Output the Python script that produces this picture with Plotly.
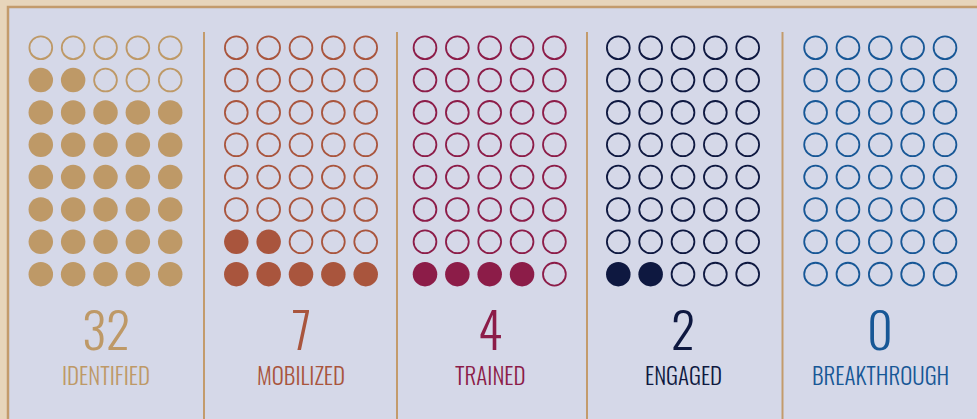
import plotly.graph_objects as go

# ---- data ----
CATEGORIES = ["IDENTIFIED", "MOBILIZED", "TRAINED", "ENGAGED", "BREAKTHROUGH"]
COUNTS = [32, 7, 4, 2, 0]
COLORS = ["#be9967", "#a9553d", "#8c1c48", "#0e1840", "#175796"]
GRID_COLS = 5
GRID_ROWS = 8

# ---- layout constants (pixels) ----
W, H = 977, 419
PANEL_CENTERS = [105.5, 301.0, 489.7, 683.0, 880.3]
DIVIDERS = [204.0, 397.0, 587.0, 782.5]
SPACING = 32.35
TOP_ROW_Y = 47.7
NUM_Y = 327
LABEL_Y = 375
BG = "#d5d8e8"
OUTER = "#e7d5bb"
TAN = "#c39b6c"
FONT = "Oswald, 'Liberation Sans Narrow', 'DejaVu Sans Condensed', 'Roboto Condensed', sans-serif"

fig = go.Figure()

for k, (cat, cnt, col) in enumerate(zip(CATEGORIES, COUNTS, COLORS)):
    fx, fy, ox, oy = [], [], [], []
    for i in range(GRID_COLS * GRID_ROWS):
        row_from_bottom = i // GRID_COLS
        c = i % GRID_COLS
        x = PANEL_CENTERS[k] + (c - (GRID_COLS - 1) / 2) * SPACING
        y = TOP_ROW_Y + (GRID_ROWS - 1 - row_from_bottom) * SPACING
        if i < cnt:
            fx.append(x); fy.append(y)
        else:
            ox.append(x); oy.append(y)
    fig.add_trace(go.Scatter(x=ox, y=oy, mode="markers", hoverinfo="skip",
                             marker=dict(symbol="circle-open", size=22.8, color=col,
                                         line=dict(width=1.8, color=col))))
    if fx:
        fig.add_trace(go.Scatter(x=fx, y=fy, mode="markers", hoverinfo="skip",
                                 marker=dict(symbol="circle", size=24.5, color=col,
                                             line=dict(width=0))))
    fig.add_annotation(x=PANEL_CENTERS[k], y=NUM_Y, text=str(cnt), showarrow=False,
                       xanchor="center", yanchor="middle",
                       font=dict(family=FONT, size=50, color=col, weight=300))
    fig.add_annotation(x=PANEL_CENTERS[k], y=LABEL_Y, text=cat, showarrow=False,
                       xanchor="center", yanchor="middle",
                       font=dict(family=FONT, size=23, color=col, weight=300))

shapes = [dict(type="rect", xref="x", yref="y", x0=8, y0=7, x1=W + 30, y1=H + 30,
               line=dict(color=TAN, width=2.5), fillcolor=BG, layer="below")]
for d in DIVIDERS:
    shapes.append(dict(type="line", xref="x", yref="y", x0=d, x1=d, y0=32, y1=H + 5,
                       line=dict(color=TAN, width=2), layer="below"))

fig.update_layout(
    width=W, height=H, autosize=False,
    margin=dict(l=0, r=0, t=0, b=0, pad=0),
    paper_bgcolor=OUTER, plot_bgcolor="rgba(0,0,0,0)",
    showlegend=False, shapes=shapes,
    xaxis=dict(range=[0, W], visible=False, fixedrange=True),
    yaxis=dict(range=[H, 0], visible=False, fixedrange=True),
)

fig.write_html("out.html", config={"displayModeBar": False})
